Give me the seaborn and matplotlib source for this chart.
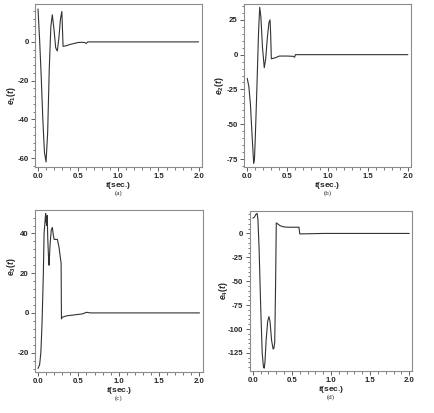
import numpy as np
import pandas as pd
import matplotlib
matplotlib.use("Agg")
import matplotlib.pyplot as plt
from matplotlib.ticker import MultipleLocator
import seaborn as sns

# ---------------- data ----------------
t1 = [0, 0.02, 0.04, 0.06, 0.08, 0.1, 0.12, 0.14, 0.16, 0.178, 0.2, 0.22, 0.24,
      0.26, 0.28, 0.297, 0.312, 0.35, 0.4, 0.45, 0.5, 0.55, 0.58, 0.6, 0.62, 0.7, 2.0]
e1 = [17, 1, -18, -40, -57, -62, -47, -14, 8, 14, 6, -3, -4.7,
      2, 12, 15.7, -2.3, -2, -1.3, -0.8, -0.3, -0.2, -0.3, -0.8, 0, 0, 0]

t2 = [0, 0.02, 0.04, 0.06, 0.08, 0.09, 0.1, 0.12, 0.14, 0.155, 0.17, 0.19, 0.212,
      0.23, 0.25, 0.27, 0.284, 0.292, 0.3, 0.35, 0.4, 0.5, 0.57, 0.59, 0.6, 2.0]
e2 = [-17, -23, -36, -58, -78, -75, -60, -24, 15, 34, 27, 5, -9.4,
      -3, 12, 23, 25, 14, -3, -2.2, -1, -1, -1.2, -1.8, 0, 0]

t3 = [0, 0.02, 0.035, 0.05, 0.066, 0.075, 0.09, 0.095, 0.1, 0.108, 0.114, 0.12,
      0.13, 0.137, 0.15, 0.165, 0.178, 0.19, 0.2, 0.24, 0.26, 0.286, 0.29, 0.3,
      0.35, 0.45, 0.55, 0.6, 0.65, 2.0]
e3 = [-28, -26, -20, -5, 20, 40, 48, 50, 46, 44, 49, 38,
      28, 24, 35, 42, 43, 39, 37, 37, 33, 25, -3, -2.2,
      -1.5, -1, -0.5, 0.3, 0, 0]

t4 = [0, 0.02, 0.04, 0.055, 0.065, 0.08, 0.1, 0.12, 0.135, 0.145, 0.155, 0.17,
      0.19, 0.206, 0.22, 0.24, 0.26, 0.27, 0.28, 0.29, 0.3, 0.31, 0.35, 0.4,
      0.45, 0.5, 0.59, 0.6, 0.9, 2.0]
e4 = [16, 17, 20, 21, 15, -15, -75, -125, -139, -141, -135, -112,
      -92, -87, -92, -112, -121, -120, -114, -60, 11, 10.5, 8, 6.8,
      6.5, 6.5, 6.5, -0.5, 0, 0]

ylabels = [r"$e_1(t)$", r"$e_2(t)$", r"$e_3(t)$", r"$e_4(t)$"]
letters = ["(a)", "(b)", "(c)", "(d)"]
yticks = [[-60, -40, -20, 0], [-75, -50, -25, 0, 25], [-20, 0, 20, 40],
          [-125, -100, -75, -50, -25, 0]]
xticks = [0.0, 0.5, 1.0, 1.5, 2.0]

# ---------------- style ----------------
sns.set_theme(style="ticks")
plt.rcParams["font.family"] = ["Liberation Sans", "DejaVu Sans"]
plt.rcParams["mathtext.fontset"] = "custom"
plt.rcParams["mathtext.it"] = "Liberation Sans:bold:italic"
plt.rcParams["mathtext.rm"] = "Liberation Sans:bold"
plt.rcParams["mathtext.bf"] = "Liberation Sans:bold"

fig = plt.figure(figsize=(4.35, 4.13), dpi=100)

pos = [
    [0.080, 0.596, 0.384, 0.394],
    [0.561, 0.596, 0.384, 0.394],
    [0.080, 0.100, 0.386, 0.391],
    [0.574, 0.102, 0.374, 0.386],
]
ylims = [(-64.5, 19.5), (-80.6, 36.3), (-29.6, 51.7), (-143.8, 23.0)]
yminor = [4, 5, 4, 5]
ylabel_xy = [(-0.10, 0.436), (-0.108, 0.5), (-0.10, 0.649), (-0.118, 0.5)]
series = [(t1, e1), (t2, e2), (t3, e3), (t4, e4)]
frame_col = "#8c8c8c"

for i, (tt, ee) in enumerate(series):
    ax = fig.add_axes(pos[i])
    df = pd.DataFrame({"t": tt, "e": ee})
    sns.lineplot(data=df, x="t", y="e", ax=ax, color="#333333", linewidth=0.8,
                 sort=False, estimator=None)
    ax.set_xlim(-0.04, 2.04)
    ax.set_ylim(*ylims[i])
    ax.set_xticks(xticks)
    ax.set_xticklabels([f"{v:.1f}" for v in xticks])
    ax.set_yticks(yticks[i])
    ax.set_yticklabels([str(v) for v in yticks[i]])
    ax.xaxis.set_minor_locator(MultipleLocator(0.1))
    ax.yaxis.set_minor_locator(MultipleLocator(yminor[i]))
    for s in ax.spines.values():
        s.set_color(frame_col)
        s.set_linewidth(0.8)
    ax.tick_params(which="major", direction="out", length=3, width=0.6,
                   color="#444444", labelsize=5.6, pad=1.5, top=False, right=False)
    ax.tick_params(which="minor", direction="out", length=1.8, width=0.5,
                   color="#444444", top=False, right=False)
    for lab in ax.get_xticklabels() + ax.get_yticklabels():
        lab.set_fontweight("bold")
    ax.set_xlabel(r"$t$(sec.)", fontsize=6, fontweight="bold", labelpad=0)
    ax.set_ylabel(ylabels[i], fontsize=6.2, labelpad=1)
    ax.yaxis.set_label_coords(*ylabel_xy[i])
    ax.grid(False)
    ax.set_facecolor("white")
    ax.text(0.5, -0.145, letters[i], transform=ax.transAxes, ha="center", va="top",
            fontsize=5, family=["Liberation Serif", "DejaVu Serif"])

fig.savefig("out.png", dpi=100, facecolor="white")
